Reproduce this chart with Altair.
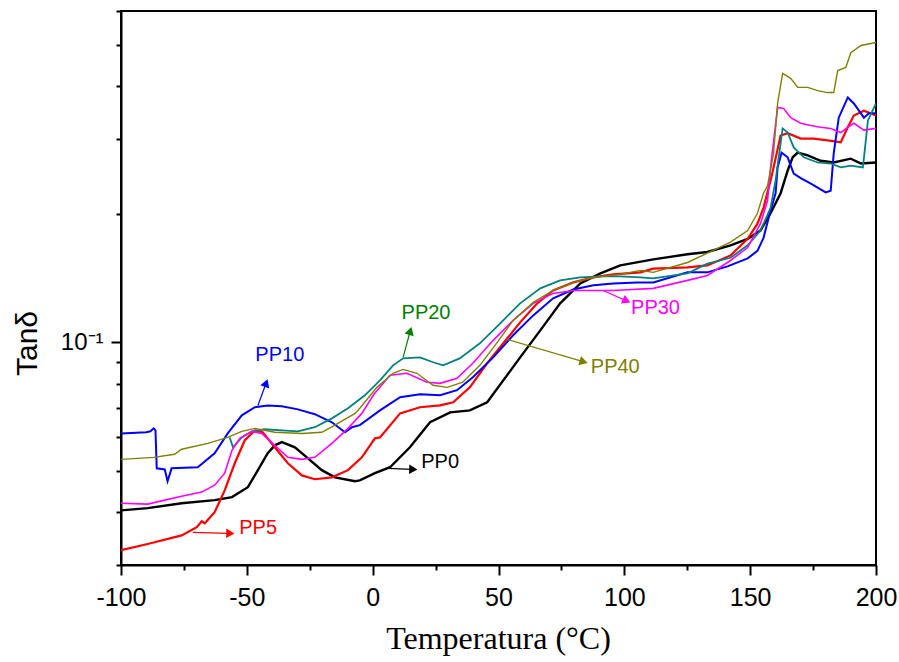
import altair as alt
import pandas as pd

# ---- data (temperature in °C, tan delta) ----
pp0_t = [-100, -89.4, -75.9, -62.8, -55.9, -49.6, -45.6, -41.7, -38.9, -36.1, -30.9, -25.7, -20.2, -15.0, -7.0, -5.1,
         0.9, 6.9, 14.8, 22.8, 30.8, 38.6, 45.5, 51.9, 58.6, 66.6, 74.5, 82.5, 90.5, 98.4, 111.5, 125.1, 133.0,
         142.2, 149.0, 154.1, 158.1, 162.1, 164.9, 166.9, 168.9, 172.9, 178.0, 183.2, 190.0, 194.0, 200]
pp0_v = [0.0403, 0.0408, 0.0419, 0.0426, 0.0433, 0.0457, 0.0501, 0.0549, 0.0573, 0.0583, 0.0567, 0.0534, 0.0501,
         0.0482, 0.0472, 0.0474, 0.0493, 0.0509, 0.0567, 0.0649, 0.0685, 0.0692, 0.0723, 0.0814, 0.0922, 0.1067,
         0.1235, 0.1375, 0.1452, 0.1516, 0.1566, 0.161, 0.163, 0.169, 0.175, 0.183, 0.201, 0.224, 0.253, 0.272,
         0.279, 0.275, 0.267, 0.2645, 0.270, 0.263, 0.2645]

pp5_t = [-100, -89.4, -75.9, -69.9, -67.9, -66.7, -62.8, -58.8, -54.8, -50.8, -46.8, -43.7, -38.9, -33.7, -28.1,
         -23.0, -16.2, -9.8, -4.3, 0.9, 2.9, 10.9, 18.8, 26.8, 32.0, 38.6, 45.5, 51.9, 58.6, 65.4, 71.7, 79.7,
         87.7, 95.6, 106.4, 111.5, 125.1, 133.0, 142.2, 149.0, 152.9, 155.3, 158.1, 159.3, 162.1, 164.9, 170.1,
         175.3, 180.8, 186.0, 188.8, 191.2, 195.2, 200]
pp5_v = [0.0325, 0.0336, 0.0352, 0.0368, 0.0380, 0.0376, 0.0399, 0.0449, 0.0520, 0.0589, 0.0621, 0.0615, 0.0567,
         0.0520, 0.0487, 0.0477, 0.0482, 0.0501, 0.0537, 0.0595, 0.0598, 0.0681, 0.0704, 0.0711, 0.0723, 0.0784,
         0.0893, 0.0995, 0.1114, 0.1235, 0.1324, 0.1383, 0.1421, 0.1444, 0.146, 0.149, 0.150, 0.1516, 0.160,
         0.175, 0.190, 0.207, 0.240, 0.2575, 0.306, 0.310, 0.301, 0.301, 0.298, 0.295, 0.320, 0.341, 0.350, 0.341]

pp10_t = [-100, -90.0, -88.3, -87.0, -86.3, -85.8, -82.6, -81.5, -79.9, -69.5, -62.8, -57.6, -52.0, -46.8, -41.7,
          -36.1, -29.7, -23.0, -16.2, -11.0, -8.2, -5.1, 2.9, 10.9, 18.8, 26.8, 33.5, 39.8, 47.9, 55.8, 63.8, 71.7,
          79.7, 87.7, 95.6, 105.2, 111.5, 125.1, 133.0, 141.0, 149.0, 152.9, 155.3, 158.1, 160.1, 160.9, 162.5,
          164.9, 167.3, 170.1, 174.1, 176.8, 180.0, 182.0, 183.2, 185.2, 188.8, 191.2, 195.2, 197.2, 200]
pp10_v = [0.0611, 0.0615, 0.0618, 0.0628, 0.0621, 0.0506, 0.0503, 0.0472, 0.0506, 0.0509, 0.0549, 0.0611, 0.0674,
          0.0704, 0.0711, 0.0708, 0.0696, 0.0678, 0.0649, 0.0615, 0.0632, 0.0639, 0.0692, 0.0743, 0.0755, 0.0751,
          0.0772, 0.0828, 0.0922, 0.1039, 0.1157, 0.1269, 0.1331, 0.1361, 0.1375, 0.1383, 0.1383, 0.146, 0.146,
          0.1508, 0.1575, 0.164, 0.176, 0.204, 0.224, 0.2575, 0.279, 0.272, 0.249, 0.243, 0.236, 0.231, 0.225,
          0.227, 0.278, 0.337, 0.376, 0.364, 0.337, 0.345, 0.345]

pp20_t = [-56.8, -55.5, -54.8, -52.0, -48.0, -42.9, -36.1, -29.7, -23.0, -16.2, -9.8, -3.1, 2.9, 8.1, 12.1, 18.8,
          24.0, 28.0, 34.6, 42.6, 50.7, 58.6, 66.6, 74.5, 82.5, 90.5, 98.4, 106.4, 111.5, 125.1, 133.0, 142.2,
          149.0, 154.1, 158.1, 160.1, 162.9, 164.9, 167.3, 171.3, 176.8, 182.0, 186.0, 190.0, 194.8, 196.8, 200]
pp20_v = [0.0598, 0.0567, 0.0573, 0.0598, 0.0618, 0.0625, 0.0621, 0.0618, 0.0632, 0.0663, 0.0700, 0.0751, 0.0814,
          0.0883, 0.0917, 0.0922, 0.0898, 0.0883, 0.0917, 0.0995, 0.1108, 0.1235, 0.1339, 0.1398, 0.1421, 0.1429,
          0.1429, 0.1421, 0.1413, 0.1452, 0.153, 0.158, 0.169, 0.183, 0.207, 0.240, 0.318, 0.311, 0.287, 0.272,
          0.2645, 0.263, 0.2575, 0.260, 0.2575, 0.332, 0.364]

pp30_t = [-100, -89.4, -82.6, -75.9, -67.9, -62.8, -58.8, -55.9, -52.8, -48.0, -44.1, -38.9, -33.7, -28.1, -23.0,
          -16.2, -9.8, -4.3, 0.5, 6.9, 13.6, 21.6, 26.8, 33.5, 39.8, 47.9, 55.8, 63.8, 71.7, 79.7, 87.7, 95.6,
          111.5, 125.1, 133.0, 142.2, 149.0, 154.1, 156.9, 158.1, 160.9, 163.3, 166.1, 170.1, 174.1, 178.0, 182.0,
          186.0, 188.8, 191.2, 195.2, 200]
pp30_v = [0.0419, 0.0417, 0.0426, 0.0435, 0.0445, 0.0462, 0.0493, 0.0558, 0.0595, 0.0618, 0.0611, 0.0573, 0.0537,
          0.0531, 0.0537, 0.0579, 0.0628, 0.0681, 0.0755, 0.0837, 0.0846, 0.0806, 0.0801, 0.0823, 0.0893, 0.1011,
          0.1126, 0.1235, 0.1303, 0.1324, 0.1324, 0.1324, 0.1339, 0.1398, 0.1436, 0.1557, 0.167, 0.190, 0.215,
          0.2575, 0.356, 0.354, 0.337, 0.327, 0.323, 0.320, 0.318, 0.311, 0.320, 0.327, 0.315, 0.318]

pp40_t = [-100, -87.0, -78.7, -75.9, -65.5, -57.6, -52.0, -46.8, -38.9, -28.1, -20.2, -15.0, -7.0, -5.1, 1.7, 8.1,
          12.1, 17.6, 24.0, 29.6, 35.8, 42.6, 49.5, 55.8, 63.8, 71.7, 79.7, 87.7, 98.4, 106.4, 111.5, 125.1, 133.0,
          142.2, 149.0, 152.9, 155.3, 156.9, 159.3, 160.9, 162.9, 166.1, 168.9, 172.9, 176.8, 180.8, 183.2, 184.8,
          188.0, 190.0, 194.0, 200]
pp40_v = [0.0531, 0.0537, 0.0546, 0.0561, 0.0579, 0.0598, 0.0618, 0.0628, 0.0615, 0.0611, 0.0615, 0.0639, 0.0681,
          0.0700, 0.0784, 0.0846, 0.0864, 0.0846, 0.0793, 0.0784, 0.0806, 0.0883, 0.100, 0.1126, 0.1241, 0.1324,
          0.1383, 0.1421, 0.1444, 0.1476, 0.146, 0.154, 0.162, 0.172, 0.183, 0.201, 0.224, 0.233, 0.278, 0.364,
          0.428, 0.417, 0.397, 0.397, 0.390, 0.386, 0.386, 0.435, 0.442, 0.479, 0.498, 0.506]

series_names = ["PP0", "PP5", "PP10", "PP20", "PP30", "PP40"]
series_colors = ["#000000", "#FF0000", "#0000FF", "#008080", "#FF00FF", "#808000"]
series_widths = [2.4, 1.4, 1.4, 1.4, 1.4, 1.4]

# ---- annotations ----
ann_label = ["PP10", "PP20", "PP40", "PP30", "PP0", "PP5"]
ann_color = ["#0000FF", "#008000", "#808000", "#FF00FF", "#000000", "#FF0000"]
ann_text_t = [-36.9, 21.2, 96.4, 112.4, 26.8, -45.5]
ann_text_v = [0.0932, 0.117, 0.0874, 0.1202, 0.0523, 0.0366]
ann_tail_t = [-45.6, 12.1, 53.4, 91.6, 6.1, -71.5]
ann_tail_v = [0.0711, 0.0922, 0.1016, 0.1324, 0.0506, 0.0358]
ann_head_t = [-42.5, 14.8, 83.3, 100.4, 15.6, -57.1]
ann_head_v = [0.0797, 0.1056, 0.0902, 0.1255, 0.0503, 0.0356]
ann_angle = [20, 16, 106, 114, 92, 91]

rows = []
for name, ts, vs in [("PP0", pp0_t, pp0_v), ("PP5", pp5_t, pp5_v), ("PP10", pp10_t, pp10_v),
                     ("PP20", pp20_t, pp20_v), ("PP30", pp30_t, pp30_v), ("PP40", pp40_t, pp40_v)]:
    for i, (t, v) in enumerate(zip(ts, vs)):
        rows.append({"series": name, "t": t, "v": v, "i": i})
df = pd.DataFrame(rows)

ann = pd.DataFrame({
    "label": ann_label, "color": ann_color,
    "tx": ann_text_t, "ty": ann_text_v,
    "x0": ann_tail_t, "y0": ann_tail_v,
    "x1": ann_head_t, "y1": ann_head_v,
    "angle": ann_angle,
})

xscale = alt.Scale(domain=[-100, 200], nice=False, zero=False)
yscale = alt.Scale(type="log", domain=[0.03, 0.6], nice=False)

x_axis = alt.Axis(
    values=list(range(-100, 201, 25)),
    labelExpr="datum.value % 50 === 0 ? toString(datum.value) : ''",
    tickSize={"condition": {"test": "datum.value % 50 === 0", "value": 10}, "value": 5},
    tickColor="black", tickWidth=2, domainColor="black", domainWidth=2,
    labelFont="Liberation Sans", labelFontSize=25, labelColor="black", labelPadding=10,
    labelFlush=False, labelOverlap=False, grid=False,
    title="Temperatura (°C)", titleFont="Liberation Serif", titleFontSize=32,
    titleFontWeight="normal", titleColor="black", titleX=377, titleY=83,
    titleBaseline="alphabetic", titleAlign="center",
)
y_axis = alt.Axis(
    values=[0.03, 0.04, 0.05, 0.06, 0.07, 0.08, 0.09, 0.1, 0.2, 0.3, 0.4, 0.5, 0.6],
    labelExpr="abs(datum.value - 0.1) < 1e-9 ? '10⁻¹' : ''",
    tickSize={"condition": {"test": "abs(datum.value - 0.1) < 1e-9", "value": 10}, "value": 5},
    tickColor="black", tickWidth=2, domainColor="black", domainWidth=2,
    labelFont="Liberation Sans", labelFontSize=24, labelColor="black", labelPadding=8,
    labelOverlap=False, grid=False,
    title="Tanδ", titleFont="Liberation Sans", titleFontSize=30, titleFontWeight="normal",
    titleColor="black", titleX=-94, titleY=332, titleAngle=270,
    titleBaseline="middle", titleAlign="center",
)

lines = alt.Chart(df).mark_line(clip=True).encode(
    x=alt.X("t:Q", scale=xscale, axis=x_axis),
    y=alt.Y("v:Q", scale=yscale, axis=y_axis),
    color=alt.Color("series:N", scale=alt.Scale(domain=series_names, range=series_colors), legend=None),
    strokeWidth=alt.StrokeWidth("series:N", scale=alt.Scale(domain=series_names, range=series_widths), legend=None),
    order="i:Q",
    detail="series:N",
)

arrows = alt.Chart(ann).mark_rule(strokeWidth=1.2).encode(
    x=alt.X("x0:Q", scale=xscale), y=alt.Y("y0:Q", scale=yscale),
    x2="x1:Q", y2="y1:Q",
    color=alt.Color("color:N", scale=None),
)
heads = alt.Chart(ann).mark_point(shape="triangle", filled=True, size=90, opacity=1).encode(
    x=alt.X("x1:Q", scale=xscale), y=alt.Y("y1:Q", scale=yscale),
    angle=alt.Angle("angle:Q", scale=None),
    color=alt.Color("color:N", scale=None),
)
labels = alt.Chart(ann).mark_text(font="Liberation Sans", fontSize=20, align="center", baseline="middle").encode(
    x=alt.X("tx:Q", scale=xscale), y=alt.Y("ty:Q", scale=yscale),
    text="label:N",
    color=alt.Color("color:N", scale=None),
)

chart = alt.layer(lines, arrows, heads, labels).properties(
    width=755, height=554,
    autosize=alt.AutoSizeParams(type="none"),
    padding={"left": 121, "top": 11, "right": 23, "bottom": 97},
    background="white",
).configure_view(stroke="black", strokeWidth=2)

chart.save("out.html", embed_options={"renderer": "svg", "actions": False})
